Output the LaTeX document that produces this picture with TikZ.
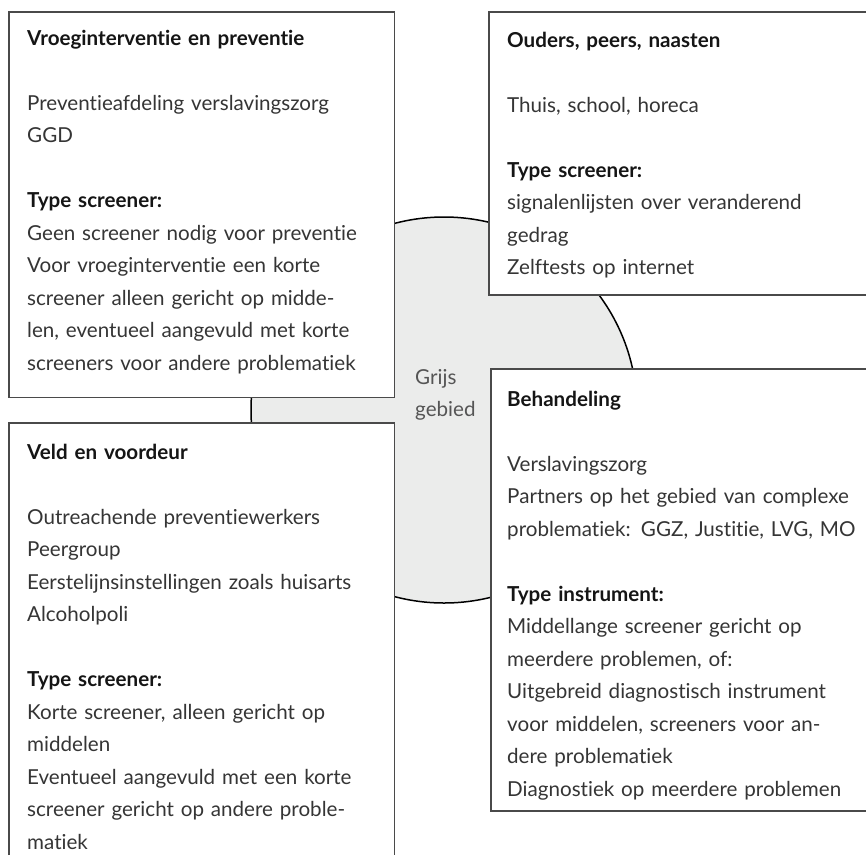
\documentclass[tikz,border=0pt]{standalone}
\usepackage{fontspec}
\setmainfont{Lato}[Ligatures={NoCommon}]
\definecolor{bodytxt}{HTML}{353535}
\definecolor{headtxt}{HTML}{151515}
\definecolor{boxline}{HTML}{4A4A4A}
\definecolor{circfill}{HTML}{EBECEB}
\definecolor{greytxt}{HTML}{555555}
\tikzset{
  panel/.style={draw=boxline, line width=1.2pt},
  panelfill/.style={fill=white},
  txt/.style={anchor=base west, inner sep=0pt, text width=440pt, align=left,
    font=\fontsize{20.6}{32.5}\selectfont, text=bodytxt},
}
\newcommand{\hd}[1]{{\color{headtxt}\bfseries #1}}
\begin{document}
\begin{tikzpicture}[x=1pt,y=-1pt]
\useasboundingbox (0,0) rectangle (866,855);
% grey area
\draw[fill=circfill, line width=1.5pt] (444,410) circle[radius=193];
% box 1
\fill[panelfill] (9,12) rectangle (394.5,397.5);
\draw[panel] (9,12) rectangle (394.5,397.5);
% box 2 (open to the right)
\fill[panelfill] (489,12) rectangle (866,295);
\draw[panel] (866,12) -- (489,12) -- (489,295) -- (866,295);
% box 3 (open at bottom)
\fill[panelfill] (9,423) rectangle (394.5,855);
\draw[panel] (9,855) -- (9,423) -- (394.5,423) -- (394.5,855);
% box 4 (open to the right)
\fill[panelfill] (491,369) rectangle (866,811);
\draw[panel] (866,369) -- (491,369) -- (491,811) -- (866,811);

% texts
\node[txt] (t1) at (27,45) {\hd{Vroeginterventie en preventie}\\[32.5pt]
Preventieafdeling verslavingszorg\\
GGD\\[32.5pt]
\hd{Type screener:}\\
Geen screener nodig voor preventie\\
Voor vroeginterventie een korte\\
screener alleen gericht op midde-\\
len, eventueel aangevuld met korte\\
screeners voor andere problematiek};

\node[txt] (t2) at (507,47) {\hd{Ouders, peers, naasten}\\[32.5pt]
Thuis, school, horeca\\[32.5pt]
\hd{Type screener:}\\
signalenlijsten over veranderend\\
gedrag\\
Zelftests op internet};

\node[txt] (t3) at (27,459) {\hd{Veld en voordeur}\\[32.5pt]
Outreachende preventiewerkers\\
Peergroup\\
Eerstelijnsinstellingen zoals huisarts\\
Alcoholpoli\\[32.5pt]
\hd{Type screener:}\\
Korte screener, alleen gericht op\\
middelen\\
Eventueel aangevuld met een korte\\
screener gericht op andere proble-\\
matiek};

\node[txt] (t4) at (507,406) {\hd{Behandeling}\\[32.5pt]
Verslavingszorg\\
Partners op het gebied van complexe\\
problematiek: GGZ, Justitie, LVG, MO\\[32.5pt]
\hd{Type instrument:}\\
Middellange screener gericht op\\
meerdere problemen, of:\\
Uitgebreid diagnostisch instrument\\
voor middelen, screeners voor an-\\
dere problematiek\\
Diagnostiek op meerdere problemen};

\node[txt, text=greytxt, text width=80pt] (grijs) at (415,384) {Grijs\\gebied};
\end{tikzpicture}
\end{document}
